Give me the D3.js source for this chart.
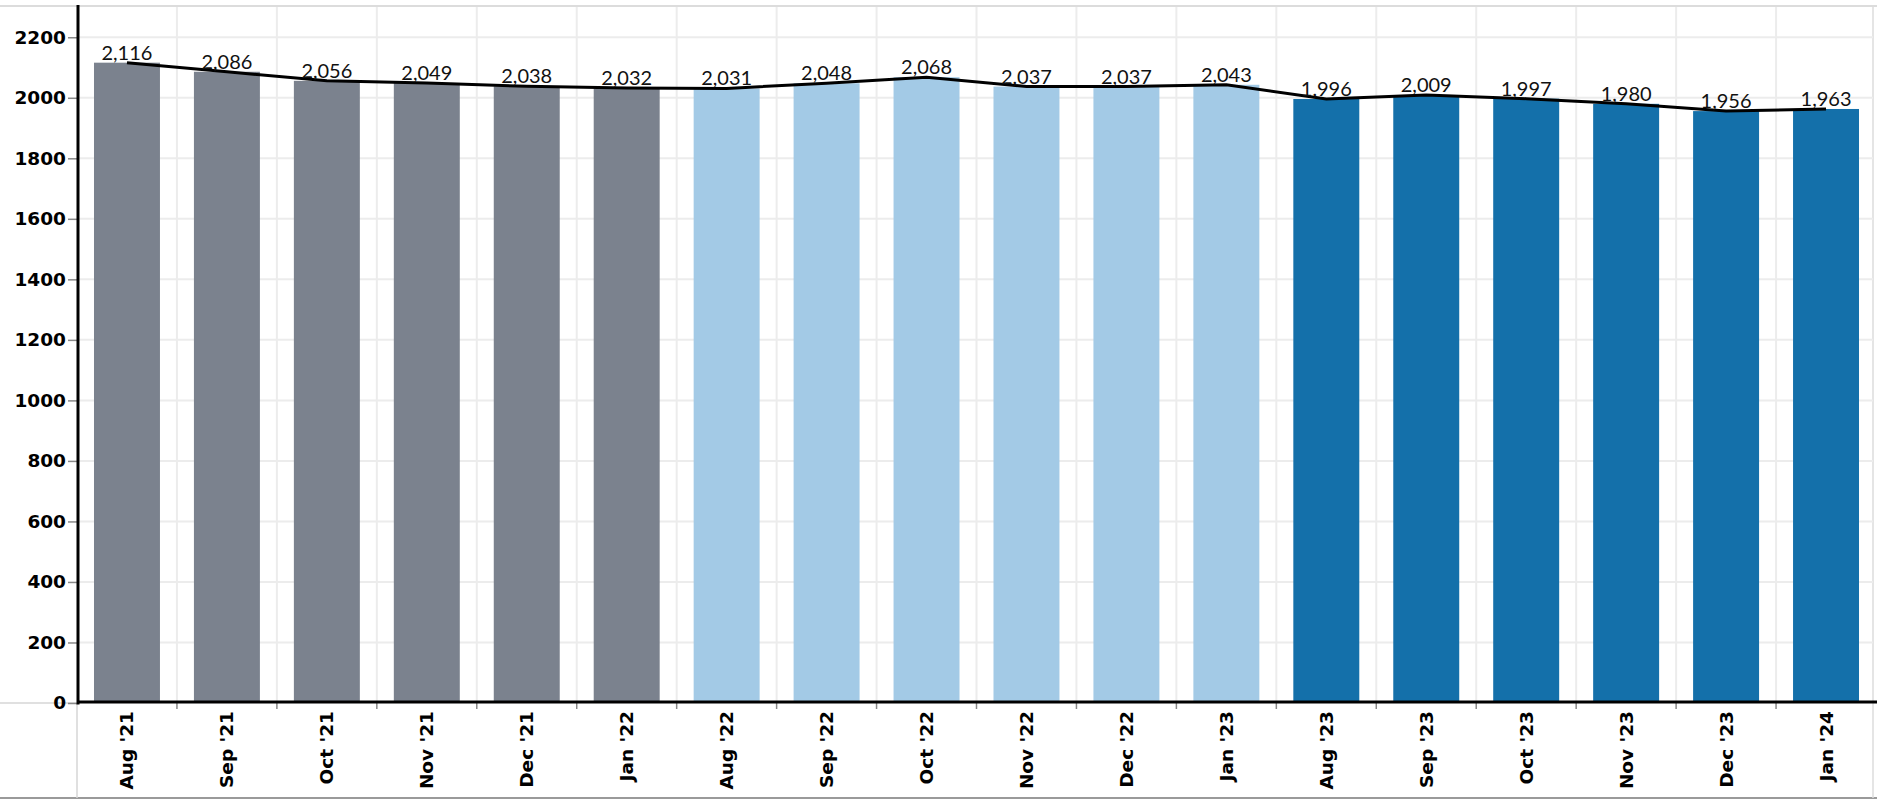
<!DOCTYPE html>
<html>
<head>
<meta charset="utf-8">
<script src="https://cdn.jsdelivr.net/npm/d3@7/dist/d3.min.js"></script>
<style>
  html, body { margin: 0; padding: 0; background: #fff; }
  svg { display: block; }
  .ytick text, .xtick text { font-family: "DejaVu Sans", Verdana, sans-serif; font-weight: bold; fill: #000; }
  .val-label { font-family: Lato, "Open Sans", sans-serif; font-size: 20px; fill: #111; }
</style>
</head>
<body>
<svg id="chart"></svg>
<script>
var months = ["Aug '21", "Sep '21", "Oct '21", "Nov '21", "Dec '21", "Jan '22",
              "Aug '22", "Sep '22", "Oct '22", "Nov '22", "Dec '22", "Jan '23",
              "Aug '23", "Sep '23", "Oct '23", "Nov '23", "Dec '23", "Jan '24"];
var counts = [2116, 2086, 2056, 2049, 2038, 2032,
              2031, 2048, 2068, 2037, 2037, 2043,
              1996, 2009, 1997, 1980, 1956, 1963];
var seasons = ["21-22", "21-22", "21-22", "21-22", "21-22", "21-22",
               "22-23", "22-23", "22-23", "22-23", "22-23", "22-23",
               "23-24", "23-24", "23-24", "23-24", "23-24", "23-24"];
var seasonNames = ["21-22", "22-23", "23-24"];
var seasonColors = ["#7b828e", "#a3cae6", "#1470aa"];
var yTicks = [0, 200, 400, 600, 800, 1000, 1200, 1400, 1600, 1800, 2000, 2200];

(function(){
  var W = 1877, H = 801;
  var left = 77, right = 1876, top = 7, base = 703, bottom = 798;

  var svg = d3.select('#chart').attr('width', W).attr('height', H);

  var x = d3.scaleBand().domain(months).range([left, right]).paddingInner(0.34).paddingOuter(0.17);
  var y = d3.scaleLinear().domain([0, 2300]).range([base, top]);
  var color = d3.scaleOrdinal().domain(seasonNames).range(seasonColors);

  // frame lines
  svg.append('line').attr('x1', 0).attr('x2', W).attr('y1', 6).attr('y2', 6).attr('stroke', '#dcdcdc').attr('stroke-width', 2);
  svg.append('line').attr('x1', 0).attr('x2', W).attr('y1', bottom).attr('y2', bottom).attr('stroke', '#9a9a9a').attr('stroke-width', 2);
  svg.append('line').attr('x1', 0).attr('x2', left).attr('y1', base).attr('y2', base).attr('stroke', '#d6d6d6').attr('stroke-width', 1.5);
  svg.append('line').attr('x1', left).attr('x2', left).attr('y1', base).attr('y2', bottom).attr('stroke', '#d6d6d6').attr('stroke-width', 1.5);
  svg.append('line').attr('x1', 1873).attr('x2', 1873).attr('y1', 6).attr('y2', bottom).attr('stroke', '#dcdcdc').attr('stroke-width', 1.5);

  // grid
  var grid = svg.append('g');
  grid.selectAll('line.h').data(yTicks.slice(1)).enter().append('line')
    .attr('x1', left).attr('x2', 1873)
    .attr('y1', function(d){ return y(d); }).attr('y2', function(d){ return y(d); })
    .attr('stroke', '#ececec').attr('stroke-width', 2);
  grid.selectAll('line.v').data(months.slice(1)).enter().append('line')
    .attr('x1', function(d){ return x(d) - x.step() * 0.17; })
    .attr('x2', function(d){ return x(d) - x.step() * 0.17; })
    .attr('y1', top).attr('y2', base)
    .attr('stroke', '#ececec').attr('stroke-width', 2);

  // bars
  svg.append('g').selectAll('rect').data(months).enter().append('rect')
    .attr('x', function(d){ return x(d); })
    .attr('width', x.bandwidth())
    .attr('y', function(d, i){ return y(counts[i]); })
    .attr('height', function(d, i){ return y(0) - y(counts[i]); })
    .attr('fill', function(d, i){ return color(seasons[i]); });

  // y axis
  var yAxis = svg.append('g').attr('transform', 'translate(' + left + ',0)')
    .call(d3.axisLeft(y).tickValues(yTicks).tickSize(9).tickPadding(2).tickFormat(d3.format('d')));
  yAxis.select('.domain').remove();
  yAxis.selectAll('.tick').attr('class', 'tick ytick');
  yAxis.selectAll('.tick line').attr('stroke', '#888').attr('stroke-width', 1.5);
  yAxis.selectAll('.tick text').style('font-size', '18.5px');

  // x axis
  var xAxis = svg.append('g').attr('transform', 'translate(0,' + base + ')')
    .call(d3.axisBottom(x).tickSize(0).tickPadding(0));
  xAxis.select('.domain').remove();
  xAxis.selectAll('.tick').attr('class', 'tick xtick');
  xAxis.selectAll('.tick text')
    .style('font-size', '18.5px')
    .attr('transform', 'rotate(-90)')
    .attr('text-anchor', 'end')
    .attr('x', -8).attr('y', 0).attr('dy', '0.35em');
  svg.append('g').selectAll('line').data(months.slice(1)).enter().append('line')
    .attr('x1', function(d){ return x(d) - x.step() * 0.17; })
    .attr('x2', function(d){ return x(d) - x.step() * 0.17; })
    .attr('y1', base).attr('y2', base + 6)
    .attr('stroke', '#888').attr('stroke-width', 1.5);

  // axis lines
  svg.append('line').attr('x1', left + 1).attr('x2', left + 1).attr('y1', 5).attr('y2', base + 1.5).attr('stroke', '#000').attr('stroke-width', 3);
  svg.append('line').attr('x1', left).attr('x2', W).attr('y1', base - 1).attr('y2', base - 1).attr('stroke', '#000').attr('stroke-width', 3);

  // trend line
  var cx = function(d, i){ return x(months[i]) + x.bandwidth() / 2; };
  var line = d3.line().x(cx).y(function(d){ return y(d); });
  svg.append('path').datum(counts).attr('d', line)
    .attr('fill', 'none').attr('stroke', '#000').attr('stroke-width', 3);

  // value labels
  svg.append('g').selectAll('text').data(counts).enter().append('text')
    .attr('class', 'val-label')
    .attr('x', cx)
    .attr('y', function(d){ return y(d) - 3; })
    .attr('text-anchor', 'middle')
    .text(function(d){ return d3.format(',')(d); });
})();
</script>
</body>
</html>
